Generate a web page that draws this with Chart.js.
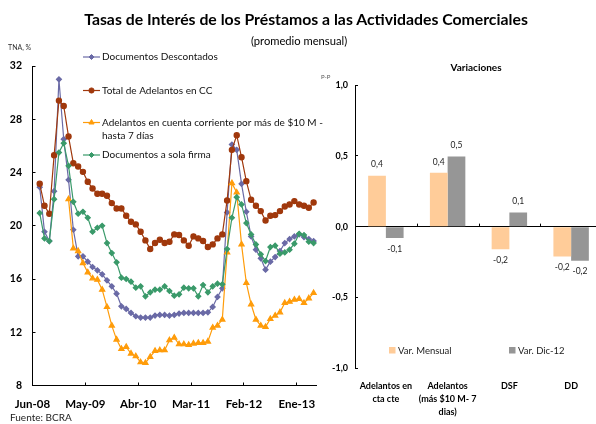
<!DOCTYPE html>
<html>
<head>
<meta charset="utf-8">
<script src="https://cdn.jsdelivr.net/npm/chart.js@4.4.1/dist/chart.umd.min.js"></script>
<style>
  html, body { margin: 0; padding: 0; background: #fff; overflow: hidden; }
  body { width: 596px; height: 424px; position: relative; font-family: Lato, 'Open Sans', sans-serif; color: #000; }
  .txt { position: absolute; white-space: nowrap; line-height: 1; }
  #left { position: absolute; left: 0; top: 0; }
  #right { position: absolute; left: 320px; top: 0; }
</style>
</head>
<body>
<canvas id="left" width="340" height="424"></canvas>
<canvas id="right" width="282" height="424"></canvas>
<div class="txt" style="left:306px; top:11px; transform:translateX(-50%); font-weight:bold; font-size:15.8px;">Tasas de Interés de los Préstamos a las Actividades Comerciales</div>
<div class="txt" style="left:299px; top:35px; transform:translateX(-50%); font-size:11.2px;">(promedio mensual)</div>
<div class="txt" style="left:8px; top:44px; font-size:7px; color:#333;">TNA, %</div>
<div class="txt" style="left:321px; top:74px; font-size:6px; color:#555;">P-P</div>
<div class="txt" style="left:476px; top:62px; transform:translateX(-50%); font-weight:bold; font-size:10px;">Variaciones</div>
<div class="txt" style="left:10px; top:412px; font-size:10px; color:#222;">Fuente: BCRA</div>
<script>
// categorías mensuales (Jun-08 sin dato)
const months = [
  'Jun-08', 'Jul-08', 'Ago-08', 'Sep-08', 'Oct-08', 'Nov-08', 'Dic-08',
  'Ene-09', 'Feb-09', 'Mar-09', 'Abr-09', 'May-09', 'Jun-09', 'Jul-09', 'Ago-09', 'Sep-09', 'Oct-09', 'Nov-09', 'Dic-09',
  'Ene-10', 'Feb-10', 'Mar-10', 'Abr-10', 'May-10', 'Jun-10', 'Jul-10', 'Ago-10', 'Sep-10', 'Oct-10', 'Nov-10', 'Dic-10',
  'Ene-11', 'Feb-11', 'Mar-11', 'Abr-11', 'May-11', 'Jun-11', 'Jul-11', 'Ago-11', 'Sep-11', 'Oct-11', 'Nov-11', 'Dic-11',
  'Ene-12', 'Feb-12', 'Mar-12', 'Abr-12', 'May-12', 'Jun-12', 'Jul-12', 'Ago-12', 'Sep-12', 'Oct-12', 'Nov-12', 'Dic-12',
  'Ene-13', 'Feb-13', 'Mar-13', 'Abr-13'
];

const docDescontados = [null,
  22.9, 19.55, 18.85, 22.6, 31.0, 26.5, 23.45, 19.7, 17.7, 17.7,
  17.3, 16.9, 16.65, 16.35, 15.9, 15.45, 14.9, 13.95, 13.75, 13.45,
  13.2, 13.1, 13.1, 13.1, 13.25, 13.3, 13.3, 13.25, 13.3, 13.4,
  13.45, 13.45, 13.45, 13.45, 13.45, 13.5, 13.9, 14.65, 15.3, 21.0,
  26.1, 25.7, 23.15, 21.05, 19.2, 18.2, 17.55, 16.7, 17.3, 17.65,
  18.1, 18.7, 19.0, 19.2, 19.35, 19.15, 19.0, 18.85];

const totalAdelantos = [null,
  23.15, 21.5, 20.9, 25.3, 29.4, 29.0, 26.7, 24.7, 24.45, 24.05,
  23.3, 22.8, 22.4, 22.4, 22.25, 21.7, 21.3, 21.3, 20.75, 20.3,
  20.1, 19.55, 18.9, 18.25, 18.7, 18.95, 18.7, 18.8, 19.35, 19.3,
  18.9, 18.5, 19.2, 19.05, 18.85, 18.4, 18.6, 19.05, 19.35, 21.9,
  25.7, 26.8, 25.15, 23.35, 21.95, 21.5, 21.1, 20.4, 20.75, 20.8,
  21.1, 21.45, 21.6, 21.85, 21.6, 21.5, 21.35, 21.75];

const adelantos10M = [null,
  null, null, null, null, null, null, 22.0, 18.3, 18.1, 17.2,
  16.5, 16.05, 15.95, 15.2, 13.9, 12.5, 11.45, 10.75, 10.9, 10.4,
  10.2, 9.75, 9.7, 10.15, 10.6, 10.65, 10.65, 11.4, 11.6, 11.1,
  11.1, 11.05, 11.15, 11.2, 11.2, 11.3, 12.35, 12.5, 12.95, 18.0,
  23.2, 22.5, 18.6, 15.7, 14.1, 12.95, 12.5, 12.4, 13.0, 13.25,
  13.5, 14.2, 14.3, 14.45, 14.5, 14.2, 14.55, 14.95];

const solaFirma = [null,
  20.95, 19.05, 18.85, 22.0, 25.5, 26.2, 24.5, 21.8, 20.9, 21.05,
  20.6, 19.55, 19.85, 20.0, 18.7, 17.95, 17.25, 16.1, 16.0, 15.8,
  15.35, 15.45, 14.7, 15.0, 15.2, 15.2, 15.45, 15.1, 14.75, 14.85,
  15.35, 15.3, 15.3, 14.7, 15.55, 15.0, 15.45, 15.65, 15.6, 18.25,
  20.6, 22.15, 21.6, 20.2, 19.35, 18.6, 17.85, 17.35, 18.4, 18.5,
  17.9, 18.0, 18.2, 18.65, 19.4, 19.3, 18.8, 18.7];

const yTicksLeft = { min: 8, max: 32, step: 4 };

// variaciones
const varCategories = [['Adelantos en', 'cta cte'], ['Adelantos', '(más $10 M- 7', 'dias)'], 'DSF', 'DD'];
const varMensual = [0.36, 0.38, -0.16, -0.21];
const varDic12 = [-0.08, 0.495, 0.10, -0.24];

const FONT = 'Lato, "Open Sans", sans-serif';
Chart.defaults.font.family = FONT;
Chart.defaults.color = '#000';

const fmt = v => v.toFixed(1).replace('.', ',');

function drawMarker(ctx, style, x, y, r, color) {
  if (Chart.helpers && Chart.helpers.drawPoint) {
    ctx.fillStyle = color;
    ctx.strokeStyle = color;
    ctx.lineWidth = 1;
    Chart.helpers.drawPoint(ctx, { pointStyle: style, radius: r, rotation: 0, borderWidth: 1 }, x, y);
  } else {
    ctx.fillStyle = color;
    ctx.beginPath();
    ctx.arc(x, y, r, 0, Math.PI * 2);
    ctx.fill();
  }
}

const leftLegend = {
  id: 'leftLegend',
  afterDraw(chart) {
    const ctx = chart.ctx;
    const items = [
      { ds: 0, y: 57, lines: ['Documentos Descontados'] },
      { ds: 1, y: 90.5, lines: ['Total de Adelantos en CC'] },
      { ds: 2, y: 122.5, lines: ['Adelantos en cuenta corriente por más de $10 M -', 'hasta 7 días'] },
      { ds: 3, y: 155, lines: ['Documentos a sola firma'] }
    ];
    ctx.save();
    items.forEach(it => {
      const ds = chart.data.datasets[it.ds];
      ctx.strokeStyle = ds.borderColor;
      ctx.lineWidth = 1.2;
      ctx.beginPath();
      ctx.moveTo(83, it.y);
      ctx.lineTo(100, it.y);
      ctx.stroke();
      drawMarker(ctx, ds.pointStyle, 91.5, it.y, ds.pointRadius, ds.borderColor);
      ctx.fillStyle = '#111';
      ctx.font = '10px ' + FONT;
      ctx.textAlign = 'left';
      ctx.textBaseline = 'middle';
      it.lines.forEach((t, j) => ctx.fillText(t, 102, it.y + j * 13.4));
    });
    ctx.restore();
  }
};

new Chart(document.getElementById('left'), {
  type: 'line',
  data: {
    labels: months,
    datasets: [
      { label: 'Documentos Descontados', data: docDescontados, borderColor: '#6a6aa6', backgroundColor: '#6a6aa6',
        pointStyle: 'rectRot', pointRadius: 2.5, borderWidth: 1.2, order: 3 },
      { label: 'Total de Adelantos en CC', data: totalAdelantos, borderColor: '#a0380c', backgroundColor: '#a0380c',
        pointStyle: 'circle', pointRadius: 2.6, borderWidth: 1.2, order: 2 },
      { label: 'Adelantos en cuenta corriente por más de $10 M - hasta 7 días', data: adelantos10M, borderColor: '#ff9c0a', backgroundColor: '#ff9c0a',
        pointStyle: 'triangle', pointRadius: 3, borderWidth: 1.2, order: 1 },
      { label: 'Documentos a sola firma', data: solaFirma, borderColor: '#3a9a6a', backgroundColor: '#3a9a6a',
        pointStyle: 'rectRot', pointRadius: 2.5, borderWidth: 1.2, order: 0 }
    ]
  },
  options: {
    responsive: false,
    animation: false,
    layout: { padding: { top: 66, right: 24, left: 0, bottom: 0 } },
    plugins: { legend: { display: false }, tooltip: { enabled: false } },
    elements: { line: { tension: 0 }, point: { borderWidth: 1 } },
    scales: {
      x: {
        type: 'category',
        offset: true,
        afterFit: s => { s.height = 38.5; },
        border: { display: true, color: '#000', width: 1 },
        grid: {
          offset: true,
          drawOnChartArea: false,
          tickLength: -3,
          color: c => (c.index !== undefined && c.index % 11 === 0) ? '#000' : 'transparent'
        },
        ticks: {
          autoSkip: false,
          maxRotation: 0,
          padding: 15,
          labelOffset: -2.4,
          font: { size: 11.5, weight: 'bold' },
          callback: (v, i) => i % 11 === 0 ? months[i] : ''
        }
      },
      y: {
        min: yTicksLeft.min,
        max: yTicksLeft.max,
        afterFit: s => { s.width = 32.5; },
        border: { display: true, color: '#000', width: 1 },
        grid: { drawOnChartArea: false, tickLength: -3, color: '#000' },
        ticks: { stepSize: yTicksLeft.step, padding: 13.5, font: { size: 10.5, weight: 'bold' } }
      }
    }
  },
  plugins: [leftLegend]
});

const rightExtras = {
  id: 'rightExtras',
  afterDatasetsDraw(chart) {
    const ctx = chart.ctx;
    const xs = chart.scales.x, ys = chart.scales.y;
    const y0 = ys.getPixelForValue(0);
    ctx.save();
    // marcas entre categorías sobre la línea de cero
    ctx.strokeStyle = '#000';
    ctx.lineWidth = 1;
    for (let i = 0; i < xs.ticks.length - 1; i++) {
      const bx = Math.round((xs.getPixelForValue(i) + xs.getPixelForValue(i + 1)) / 2) + 0.5;
      ctx.beginPath();
      ctx.moveTo(bx, y0);
      ctx.lineTo(bx, y0 - 3);
      ctx.stroke();
    }
    // etiquetas de datos
    ctx.font = '8.5px ' + FONT;
    ctx.fillStyle = '#222';
    ctx.textAlign = 'center';
    ctx.textBaseline = 'middle';
    chart.data.datasets.forEach((ds, di) => {
      chart.getDatasetMeta(di).data.forEach((bar, i) => {
        const v = ds.data[i];
        ctx.fillText(fmt(v), bar.x, v >= 0 ? bar.y - 11 : bar.y + 11);
      });
    });
    // leyenda
    ctx.font = '9.5px ' + FONT;
    ctx.textAlign = 'left';
    chart.data.datasets.forEach((ds, di) => {
      const lx = di === 0 ? 69 : 189;
      ctx.fillStyle = ds.backgroundColor;
      ctx.fillRect(lx, 347, 6.5, 6.5);
      ctx.fillStyle = '#222';
      ctx.fillText(ds.label, lx + 9, 350.5);
    });
    ctx.restore();
  }
};

new Chart(document.getElementById('right'), {
  type: 'bar',
  data: {
    labels: varCategories,
    datasets: [
      { label: 'Var. Mensual', data: varMensual, backgroundColor: '#ffcc99' },
      { label: 'Var. Dic-12', data: varDic12, backgroundColor: '#969696' }
    ]
  },
  options: {
    responsive: false,
    animation: false,
    layout: { padding: { top: 85, right: 0, left: 0, bottom: 0 } },
    plugins: { legend: { display: false }, tooltip: { enabled: false } },
    datasets: { bar: { categoryPercentage: 0.574, barPercentage: 1 } },
    scales: {
      x: {
        afterFit: s => { s.height = 55.7; },
        border: { display: false },
        grid: { display: false },
        ticks: { padding: 3, maxRotation: 0, autoSkip: false, font: { size: 9, weight: 'bold', lineHeight: 1.45 } }
      },
      y: {
        min: -1,
        max: 1,
        afterFit: s => { s.width = 35; },
        border: { display: true, color: '#000', width: 1 },
        grid: {
          drawOnChartArea: true,
          tickLength: -3,
          tickColor: '#000',
          color: c => (c.tick && c.tick.value === 0) ? '#000' : 'transparent'
        },
        ticks: { stepSize: 0.5, padding: 10, font: { size: 9, weight: 'bold' }, callback: v => fmt(v) }
      }
    }
  },
  plugins: [rightExtras]
});
</script>
</body>
</html>
